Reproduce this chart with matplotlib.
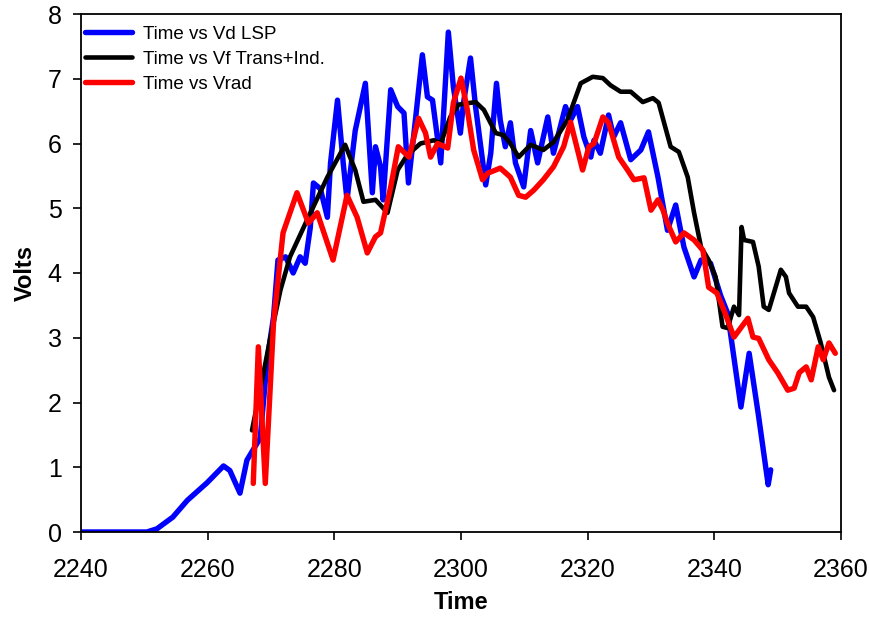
import matplotlib
matplotlib.use("Agg")
import matplotlib.pyplot as plt

plt.rcParams['font.family'] = ['Liberation Sans', 'DejaVu Sans']

blue_t = [2240, 2250.4, 2252, 2254.5, 2256.8, 2259.9, 2262.5, 2263.5, 2265.1, 2266.2,
          2268.3, 2269.4, 2270.4, 2271.1, 2272.3, 2273.5, 2274.6, 2275.4, 2276.2, 2276.7,
          2277.8, 2278.9, 2279.4, 2280.5, 2281.4, 2282, 2283.3, 2284.9, 2286, 2286.5,
          2287.3, 2287.7, 2288.9, 2290, 2291, 2291.7, 2292.8, 2293.9, 2294.7, 2295.5,
          2296.8, 2298.0, 2298.8, 2299.9, 2300.4, 2301.5, 2302.3, 2303.9, 2304.7, 2305.6,
          2306.2, 2307.0, 2307.8, 2308.6, 2309.9, 2311, 2312.1, 2313.7, 2314.6, 2316.5,
          2317.3, 2318.4, 2319.4, 2320.5, 2321, 2322, 2323.3, 2324.1, 2325.2, 2326.8,
          2328.4, 2329.6, 2331.1, 2332.6, 2333.9, 2335.2, 2336.8, 2337.9, 2339.4, 2341,
          2342.1, 2344.2, 2345.5, 2347, 2348.5, 2348.9]
blue_v = [0, 0, 0.05, 0.23, 0.49, 0.76, 1.02, 0.95, 0.6, 1.11,
          1.45, 2.66, 3.32, 4.2, 4.25, 4.0, 4.25, 4.15, 4.7, 5.39,
          5.3, 4.86, 5.7, 6.67, 5.7, 5.13, 6.2, 6.93, 5.24, 5.95,
          5.64, 5.13, 6.83, 6.57, 6.47, 5.39, 6.36, 7.37, 6.72, 6.67,
          5.7, 7.72, 6.87, 6.16, 6.63, 7.32, 6.57, 5.36, 5.85, 6.93,
          6.36, 5.95, 6.32, 5.7, 5.33, 6.2, 5.7, 6.41, 5.85, 6.57,
          6.36, 6.57, 6.1, 5.79, 6.05, 5.85, 6.44, 6.1, 6.32, 5.75,
          5.9, 6.18, 5.48, 4.66, 5.05, 4.40, 3.94, 4.2, 4.15, 3.65,
          3.38, 1.93, 2.76, 1.78, 0.73, 0.96]

black_t = [2267, 2268.8, 2269.9, 2271.5, 2273, 2275.7, 2278.9, 2281.7, 2283.3, 2284.6,
           2286.5, 2288.4, 2290, 2291.5, 2293.6, 2295.7, 2296.8, 2298.3, 2299.6, 2302.3,
           2303.6, 2305.5, 2306.7, 2307.8, 2309.1, 2311, 2313, 2314.6, 2316.8, 2318.9,
           2320.8, 2322.4, 2323.6, 2325.2, 2326.8, 2328.7, 2330.3, 2331.2, 2333.1, 2334.4,
           2335.8, 2336.8, 2337.9, 2339.1, 2340.2, 2341.3, 2342.1, 2343.1, 2343.9, 2344.3,
           2344.7, 2346.1, 2347, 2347.8, 2348.6, 2349.4, 2350.5, 2351.3, 2351.8, 2353.2,
           2354.5, 2355.6, 2356.8, 2358.1, 2358.9]
black_v = [1.57, 2.45, 3.0, 3.74, 4.25, 4.82, 5.48, 5.98, 5.59, 5.1,
           5.13, 4.93, 5.59, 5.82, 6.0, 6.05, 6.0, 6.41, 6.6, 6.64,
           6.52, 6.16, 6.13, 6.0, 5.79, 5.98, 5.9, 6.02, 6.36, 6.93,
           7.03, 7.01, 6.9, 6.8, 6.8, 6.64, 6.7, 6.63, 5.95, 5.87,
           5.48, 4.93, 4.4, 4.2, 3.94, 3.17, 3.15, 3.48, 3.35, 4.71,
           4.51, 4.48, 4.1, 3.48, 3.43, 3.69, 4.05, 3.94, 3.69, 3.48,
           3.48, 3.32, 2.92, 2.39, 2.19]

red_t = [2267.2, 2268, 2269.1, 2270.4, 2271.9, 2274.1, 2275.9, 2277.3, 2279.8, 2282,
         2283.6, 2285.2, 2286.5, 2287.3, 2288.9, 2290.1, 2291.8, 2293.3, 2294.4, 2295.2,
         2296.3, 2297.9, 2298.8, 2300.0, 2301, 2302, 2303.4, 2304.2, 2306.2, 2307.8,
         2309.1, 2310.2, 2311.5, 2313, 2314.6, 2316.2, 2317.3, 2319.2, 2320.2, 2321,
         2322.4, 2323.3, 2324.9, 2326.3, 2327.3, 2328.9, 2330, 2331.1, 2331.9, 2332.6,
         2333.9, 2335.2, 2336.8, 2338.2, 2339.1, 2340.4, 2341.5, 2343.1, 2345.3, 2346.1,
         2347, 2348.6, 2350, 2351.6, 2352.6, 2353.4, 2354.5, 2355.3, 2356.4, 2357.2,
         2358.1, 2359.1]
red_v = [0.75, 2.86, 0.75, 3.23, 4.62, 5.24, 4.77, 4.93, 4.2, 5.2,
         4.86, 4.31, 4.56, 4.62, 5.33, 5.95, 5.79, 6.39, 6.16, 5.79,
         6.0, 5.93, 6.63, 7.01, 6.52, 5.9, 5.44, 5.54, 5.62, 5.48,
         5.2, 5.17, 5.28, 5.44, 5.64, 5.95, 6.33, 5.59, 5.95, 6.0,
         6.41, 6.32, 5.79, 5.59, 5.44, 5.47, 4.97, 5.13, 4.97, 4.77,
         4.48, 4.62, 4.51, 4.35, 3.78, 3.69, 3.43, 3.01, 3.3, 3.01,
         2.99, 2.66, 2.46, 2.19, 2.22, 2.46, 2.55, 2.35, 2.86, 2.66,
         2.92, 2.76]

labels = ["Time vs Vd LSP", "Time vs Vf Trans+Ind.", "Time vs Vrad"]
x_ticks = [2240, 2260, 2280, 2300, 2320, 2340, 2360]
y_ticks = [0, 1, 2, 3, 4, 5, 6, 7, 8]

fig = plt.figure(figsize=(8.69, 6.17), dpi=100)
ax = fig.add_axes([81/869, 1-532/617, (841-81)/869, (532-14)/617])

kw = dict(solid_joinstyle='round', solid_capstyle='round')
ax.plot(blue_t, blue_v, color='#0000ff', lw=3.9, label=labels[0], **kw)
ax.plot(black_t, black_v, color='black', lw=3.3, label=labels[1], **kw)
ax.plot(red_t, red_v, color='#ff0000', lw=3.9, label=labels[2], **kw)

ax.set_xlim(2240, 2360)
ax.set_ylim(0, 8)
ax.set_xticks(x_ticks)
ax.set_yticks(y_ticks)
ax.tick_params(direction='out', length=6, width=1.2, labelsize=18, top=False, right=False)
ax.tick_params(axis='x', pad=13)
ax.tick_params(axis='y', pad=8)
for s in ax.spines.values():
    s.set_linewidth(1.3)

ax.set_xlabel("Time", fontsize=17, fontweight='bold', labelpad=6)
ax.set_ylabel("Volts", fontsize=17, fontweight='bold', labelpad=8)

ax.legend(loc='upper left', frameon=False, fontsize=13.5, handlelength=2.5,
          handletextpad=0.6, labelspacing=0.42, borderaxespad=0.0, borderpad=0.2,
          bbox_to_anchor=(0.0, 0.985))

fig.savefig("out.png", dpi=100)
